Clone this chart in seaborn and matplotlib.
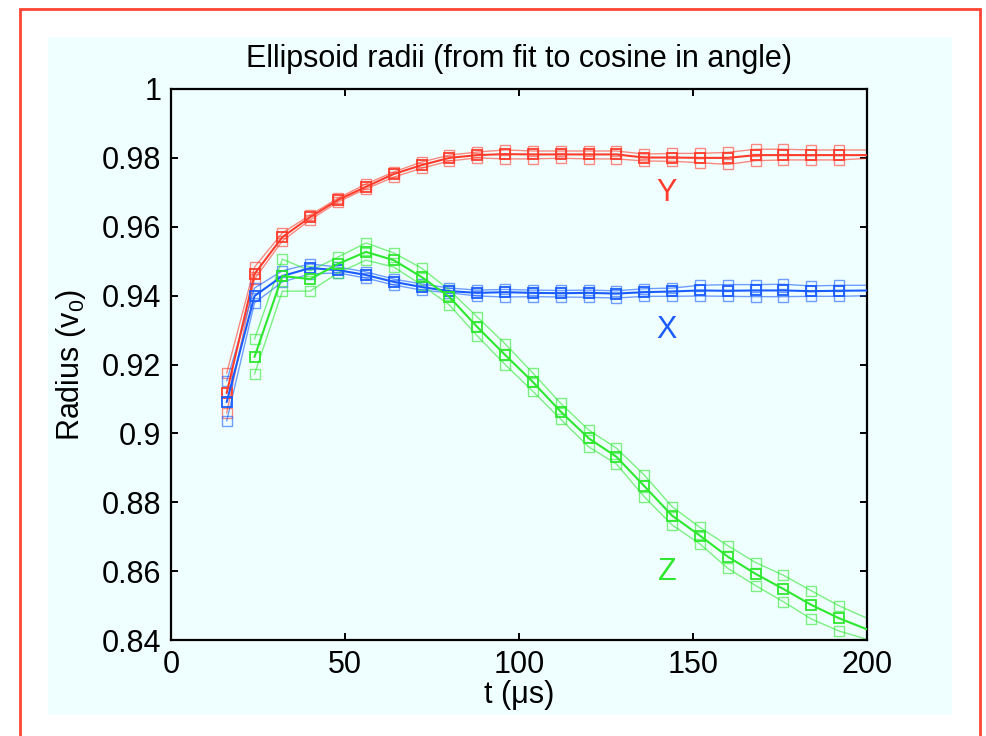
import numpy as np
import pandas as pd
import matplotlib
matplotlib.use("Agg")
import matplotlib.pyplot as plt
from matplotlib.patches import Rectangle
import seaborn as sns

# ---------------- data ----------------
t = [16, 24, 32, 40, 48, 56, 64, 72, 80, 88, 96, 104, 112, 120, 128, 136,
     144, 152, 160, 168, 176, 184, 192, 201]

y_upper = [0.9175, 0.9483, 0.9582, 0.9634, 0.9683, 0.9724, 0.9759, 0.9788, 0.9808, 0.9817,
           0.9823, 0.9820, 0.9820, 0.9820, 0.9820, 0.9811, 0.9813, 0.9813, 0.9816, 0.9825,
           0.9825, 0.9823, 0.9823, 0.9823]
y_mid = [0.9117, 0.9463, 0.9570, 0.9628, 0.9678, 0.9716, 0.9753, 0.9779, 0.9800, 0.9808,
         0.9811, 0.9810, 0.9810, 0.9810, 0.9810, 0.9801, 0.9801, 0.9800, 0.9800, 0.9808,
         0.9808, 0.9808, 0.9808, 0.9808]
y_lower = [0.9059, 0.9448, 0.9559, 0.9620, 0.9672, 0.9710, 0.9744, 0.9770, 0.9791, 0.9800,
           0.9797, 0.9797, 0.9799, 0.9797, 0.9797, 0.9791, 0.9790, 0.9786, 0.9781, 0.9792,
           0.9794, 0.9794, 0.9794, 0.9799]

x_upper = [0.9152, 0.9422, 0.9472, 0.9492, 0.9483, 0.9469, 0.9448, 0.9434, 0.9422, 0.9416,
           0.9418, 0.9416, 0.9415, 0.9416, 0.9414, 0.9420, 0.9422, 0.9430, 0.9432, 0.9432,
           0.9433, 0.9428, 0.9430, 0.9430]
x_mid = [0.9091, 0.9399, 0.9457, 0.9480, 0.9474, 0.9460, 0.9440, 0.9425, 0.9413, 0.9408,
         0.9410, 0.9408, 0.9407, 0.9408, 0.9406, 0.9410, 0.9412, 0.9415, 0.9414, 0.9415,
         0.9415, 0.9413, 0.9414, 0.9415]
x_lower = [0.9036, 0.9379, 0.9440, 0.9463, 0.9466, 0.9451, 0.9431, 0.9416, 0.9408, 0.9399,
           0.9396, 0.9397, 0.9396, 0.9395, 0.9393, 0.9398, 0.9398, 0.9399, 0.9398, 0.9397,
           0.9397, 0.9398, 0.9398, 0.9400]

z_upper = [np.nan, 0.9274, 0.9506, 0.9472, 0.9512, 0.9553, 0.9524, 0.9480, 0.9416, 0.9338,
           0.9260, 0.9175, 0.9087, 0.9010, 0.8957, 0.8879, 0.8787, 0.8727, 0.8674, 0.8625,
           0.8588, 0.8543, 0.8499, 0.8459]
z_mid = [np.nan, 0.9222, 0.9457, 0.9448, 0.9492, 0.9527, 0.9503, 0.9454, 0.9396, 0.9309,
         0.9228, 0.9149, 0.9063, 0.8986, 0.8932, 0.8847, 0.8761, 0.8703, 0.8642, 0.8592,
         0.8548, 0.8502, 0.8463, 0.8427]
z_lower = [np.nan, 0.9172, 0.9413, 0.9413, 0.9466, 0.9503, 0.9483, 0.9431, 0.9373, 0.9283,
           0.9200, 0.9122, 0.9041, 0.8961, 0.8911, 0.8816, 0.8734, 0.8679, 0.8608, 0.8558,
           0.8511, 0.8461, 0.8426, 0.8399]

x_ticks = [0, 50, 100, 150, 200]
y_ticks = [0.84, 0.86, 0.88, 0.90, 0.92, 0.94, 0.96, 0.98, 1.00]
y_ticklabels = ["0.84", "0.86", "0.88", "0.9", "0.92", "0.94", "0.96", "0.98", "1"]

series = [
    ("Y", "#FF3B2B", [y_upper, y_mid, y_lower], 142.5, 0.9698),
    ("X", "#1A5CFF", [x_upper, x_mid, x_lower], 142.5, 0.9300),
    ("Z", "#2EE82E", [z_upper, z_mid, z_lower], 142.5, 0.8598),
]

# ---------------- style ----------------
sns.set_theme(style="ticks")
plt.rcParams["font.family"] = ["Liberation Sans", "DejaVu Sans"]
plt.rcParams["mathtext.default"] = "regular"

panel = "#EFFFFF"
FS = 22

fig = plt.figure(figsize=(9.87, 7.36), dpi=100)
fig.patch.set_facecolor("white")

# red outer frame (bottom edge off-canvas)
fig.add_artist(Rectangle((20 / 987, -0.05), (980 - 20) / 987, 1 - 9 / 736 + 0.05,
                         transform=fig.transFigure, fill=False,
                         edgecolor="#FF4433", linewidth=2.0, zorder=0))
# light cyan panel
fig.add_artist(Rectangle((48 / 987, (736 - 715) / 736), (952 - 48) / 987, (715 - 37) / 736,
                         transform=fig.transFigure, facecolor=panel,
                         edgecolor="none", zorder=0))

ax = fig.add_axes([171 / 987, (736 - 640) / 736, (867 - 171) / 987, (640 - 89) / 736])
ax.set_facecolor(panel)

for name, color, lines, lx, ly in series:
    for i, vals in enumerate(lines):
        vals = np.asarray(vals, dtype=float)
        tt = np.asarray(t, dtype=float)
        m = ~np.isnan(vals)
        df = pd.DataFrame({"t": tt[m], "r": vals[m]})
        n = len(df)
        center = (i == 1)
        sns.lineplot(data=df, x="t", y="r", ax=ax, color=color,
                     linewidth=1.5 if center else 1.0,
                     alpha=1.0 if center else 0.6,
                     marker="s", markersize=7.5,
                     markerfacecolor="none", markeredgecolor=color,
                     markeredgewidth=1.3 if center else 1.0,
                     markevery=list(range(n - 1)),
                     sort=False, estimator=None, legend=False,
                     zorder=3 if center else 2)
    ax.text(lx, ly, name, color=color, fontsize=FS, ha="center", va="center")

ax.set_xlim(0, 200)
ax.set_ylim(0.84, 1.0)
ax.set_xticks(x_ticks)
ax.set_xticklabels([str(v) for v in x_ticks])
ax.set_yticks(y_ticks)
ax.set_yticklabels(y_ticklabels)

for s in ax.spines.values():
    s.set_visible(True)
    s.set_linewidth(1.6)
    s.set_color("black")
ax.tick_params(direction="in", length=5, width=1.4, top=True, right=True,
               labelsize=FS, colors="black", pad=7)

ax.set_title("Ellipsoid radii (from fit to cosine in angle)", fontsize=FS, pad=16,
             color="black")
ax.set_xlabel("t (μs)", fontsize=FS, labelpad=0, color="black")
ax.set_ylabel("Radius (v$_0$)", fontsize=FS, labelpad=10, color="black")

fig.savefig("out.png", dpi=100, facecolor="white")
